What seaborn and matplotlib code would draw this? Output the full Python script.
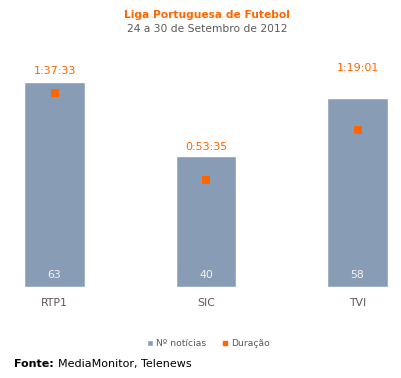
import pandas as pd
import seaborn as sns
from matplotlib import pyplot as plt
from matplotlib.patches import Patch
from matplotlib.lines import Line2D

channels = ["RTP1", "SIC", "TVI"]
noticias = [63, 40, 58]
duracao = ["1:37:33", "0:53:35", "1:19:01"]

def to_minutes(s):
    h, m, sec = (int(p) for p in s.split(":"))
    return h * 60 + m + sec / 60

df = pd.DataFrame({
    "canal": channels,
    "noticias": noticias,
    "duracao_min": [to_minutes(d) for d in duracao],
})

bar_color = "#889DB5"
orange = "#FF6600"
grey_text = "#595959"

sns.set_style("white")
plt.rcParams["font.family"] = ["DejaVu Sans"]

fig = plt.figure(figsize=(4.01, 3.78), dpi=100)
ax = fig.add_axes([0, 0.242, 1, 0.602])

sns.barplot(data=df, x="canal", y="noticias", color=bar_color, width=0.40,
            saturation=1, ax=ax)
ax.set_ylim(0, 70)
ax.set_xlim(-0.36, 2.287)

ax2 = ax.twinx()
sns.scatterplot(x=range(len(channels)), y=df["duracao_min"], marker="s", s=30,
                color=orange, edgecolor=orange, linewidth=0, ax=ax2)
ax2.set_ylim(0, 115)

# count labels at the bottom of bars
for i, n in enumerate(noticias):
    ax.text(i, 3.5, str(n), ha="center", va="center", fontsize=7.8, color="#F2F2F2")

# duration labels above
label_y = [66.4, 42.8, 67.2]
for i, (d, y) in enumerate(zip(duracao, label_y)):
    ax.text(i, y, d, ha="center", va="center", fontsize=8, color=orange)

for a in (ax, ax2):
    for s in a.spines.values():
        s.set_visible(False)
    a.set_yticks([])
    a.set_ylabel("")
ax.set_xlabel("")
ax.tick_params(axis="x", length=0, pad=8, labelsize=7.8, labelcolor=grey_text)

fig.text(0.516, 0.96, "Liga Portuguesa de Futebol", ha="center", va="center",
         fontsize=7.7, fontweight="bold", color=orange)
fig.text(0.516, 0.923, "24 a 30 de Setembro de 2012", ha="center", va="center",
         fontsize=7.7, color=grey_text)

handles = [
    Patch(facecolor=bar_color, label="Nº notícias"),
    Line2D([], [], marker="s", linestyle="", color=orange, markersize=3.5, label="Duração"),
]
fig.legend(handles=handles, loc="center", bbox_to_anchor=(0.52, 0.09), ncol=2,
           frameon=False, fontsize=6.7, labelcolor=grey_text, handlelength=0.6,
           handleheight=0.6, handletextpad=0.3, columnspacing=1.8)

fig.text(0.035, 0.037, "Fonte:", ha="left", va="center", fontsize=8, fontweight="bold", color="black")
fig.text(0.145, 0.037, "MediaMonitor, Telenews", ha="left", va="center", fontsize=8, color="black")

fig.savefig("out.png", dpi=100)
